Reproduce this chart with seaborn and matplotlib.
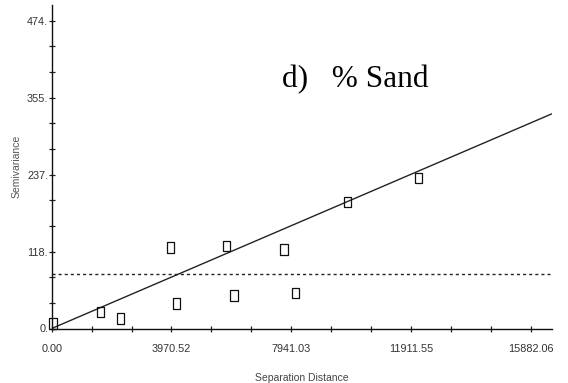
import matplotlib
matplotlib.use("Agg")
import matplotlib.pyplot as plt
import seaborn as sns
import numpy as np
import pandas as pd

# ---- data ----
lag_distance = [43, 1615, 2288, 3936, 4135, 5792, 6045, 7702, 8090, 9814, 12158]
semivariance = [7.7, 25.6, 15.4, 124.8, 38.5, 126.8, 50.8, 121.7, 54.9, 195.0, 232.0]
model_x = [0, 16585]
model_y = [0, 330.5]
sill = 84.7
x_max_label = 15882.06
y_max_label = 474.0
x_tick_labels = ["0.00", "3970.52", "7941.03", "11911.55", "15882.06"]
y_tick_labels = ["0.", "118.", "237.", "355.", "474."]
title_text = "d)   % Sand"
xlabel_text = "Separation Distance"
ylabel_text = "Semivariance"

sns.set_style("white")
plt.rcParams["font.family"] = ["Liberation Sans", "DejaVu Sans"]

fig = plt.figure(figsize=(5.68, 3.83), dpi=100)
ax = fig.add_axes([51.7 / 568, (383 - 328.5) / 383, 500 / 568, (328.5 - 5) / 383])

pts = pd.DataFrame({"x": lag_distance, "y": semivariance})
model = pd.DataFrame({"x": model_x, "y": model_y})

sns.lineplot(data=model, x="x", y="y", ax=ax, color="#222222", lw=1.0)
ax.axhline(sill, color="#222222", lw=1.0, ls=(0, (2.2, 2.2)))

rect = [(-0.7, -1), (0.7, -1), (0.7, 1), (-0.7, 1), (-0.7, -1)]
sns.scatterplot(data=pts, x="x", y="y", ax=ax, marker=rect, s=55,
                facecolor="none", edgecolor="#111111", linewidth=0.9,
                clip_on=False, zorder=5)

ax.set_xlim(0, model_x[1])
ax.set_ylim(0, y_max_label * (1 + 15.7 / 307.6))

xt = np.linspace(0, x_max_label, 13)
yt = np.linspace(0, y_max_label, 13)
ax.set_xticks(xt)
ax.set_yticks(yt)
ax.set_xticklabels([x_tick_labels[i // 3] if i % 3 == 0 else "" for i in range(13)])
ax.set_yticklabels([y_tick_labels[i // 3] if i % 3 == 0 else "" for i in range(13)])

for s in ["top", "right"]:
    ax.spines[s].set_visible(False)
for s in ["left", "bottom"]:
    ax.spines[s].set_color("#111111")
    ax.spines[s].set_linewidth(1.0)

ax.tick_params(axis="x", bottom=True, direction="inout", length=5, width=0.9, color="#222222",
               labelsize=7.8, labelcolor="#333333", pad=9)
ax.tick_params(axis="y", left=True, direction="inout", length=4, width=0.9, color="#222222",
               labelsize=7.8, labelcolor="#333333", pad=0.5)

ax.set_xlabel(xlabel_text, fontsize=7.5, color="#444444", labelpad=13)
ax.set_ylabel(ylabel_text, fontsize=7.5, color="#555555", labelpad=4)

fig.text(282 / 568, 1 - 87 / 383, title_text, fontsize=22.5,
         family=["Liberation Serif", "DejaVu Serif"], color="black",
         ha="left", va="baseline")

fig.savefig("out.png", dpi=100)
